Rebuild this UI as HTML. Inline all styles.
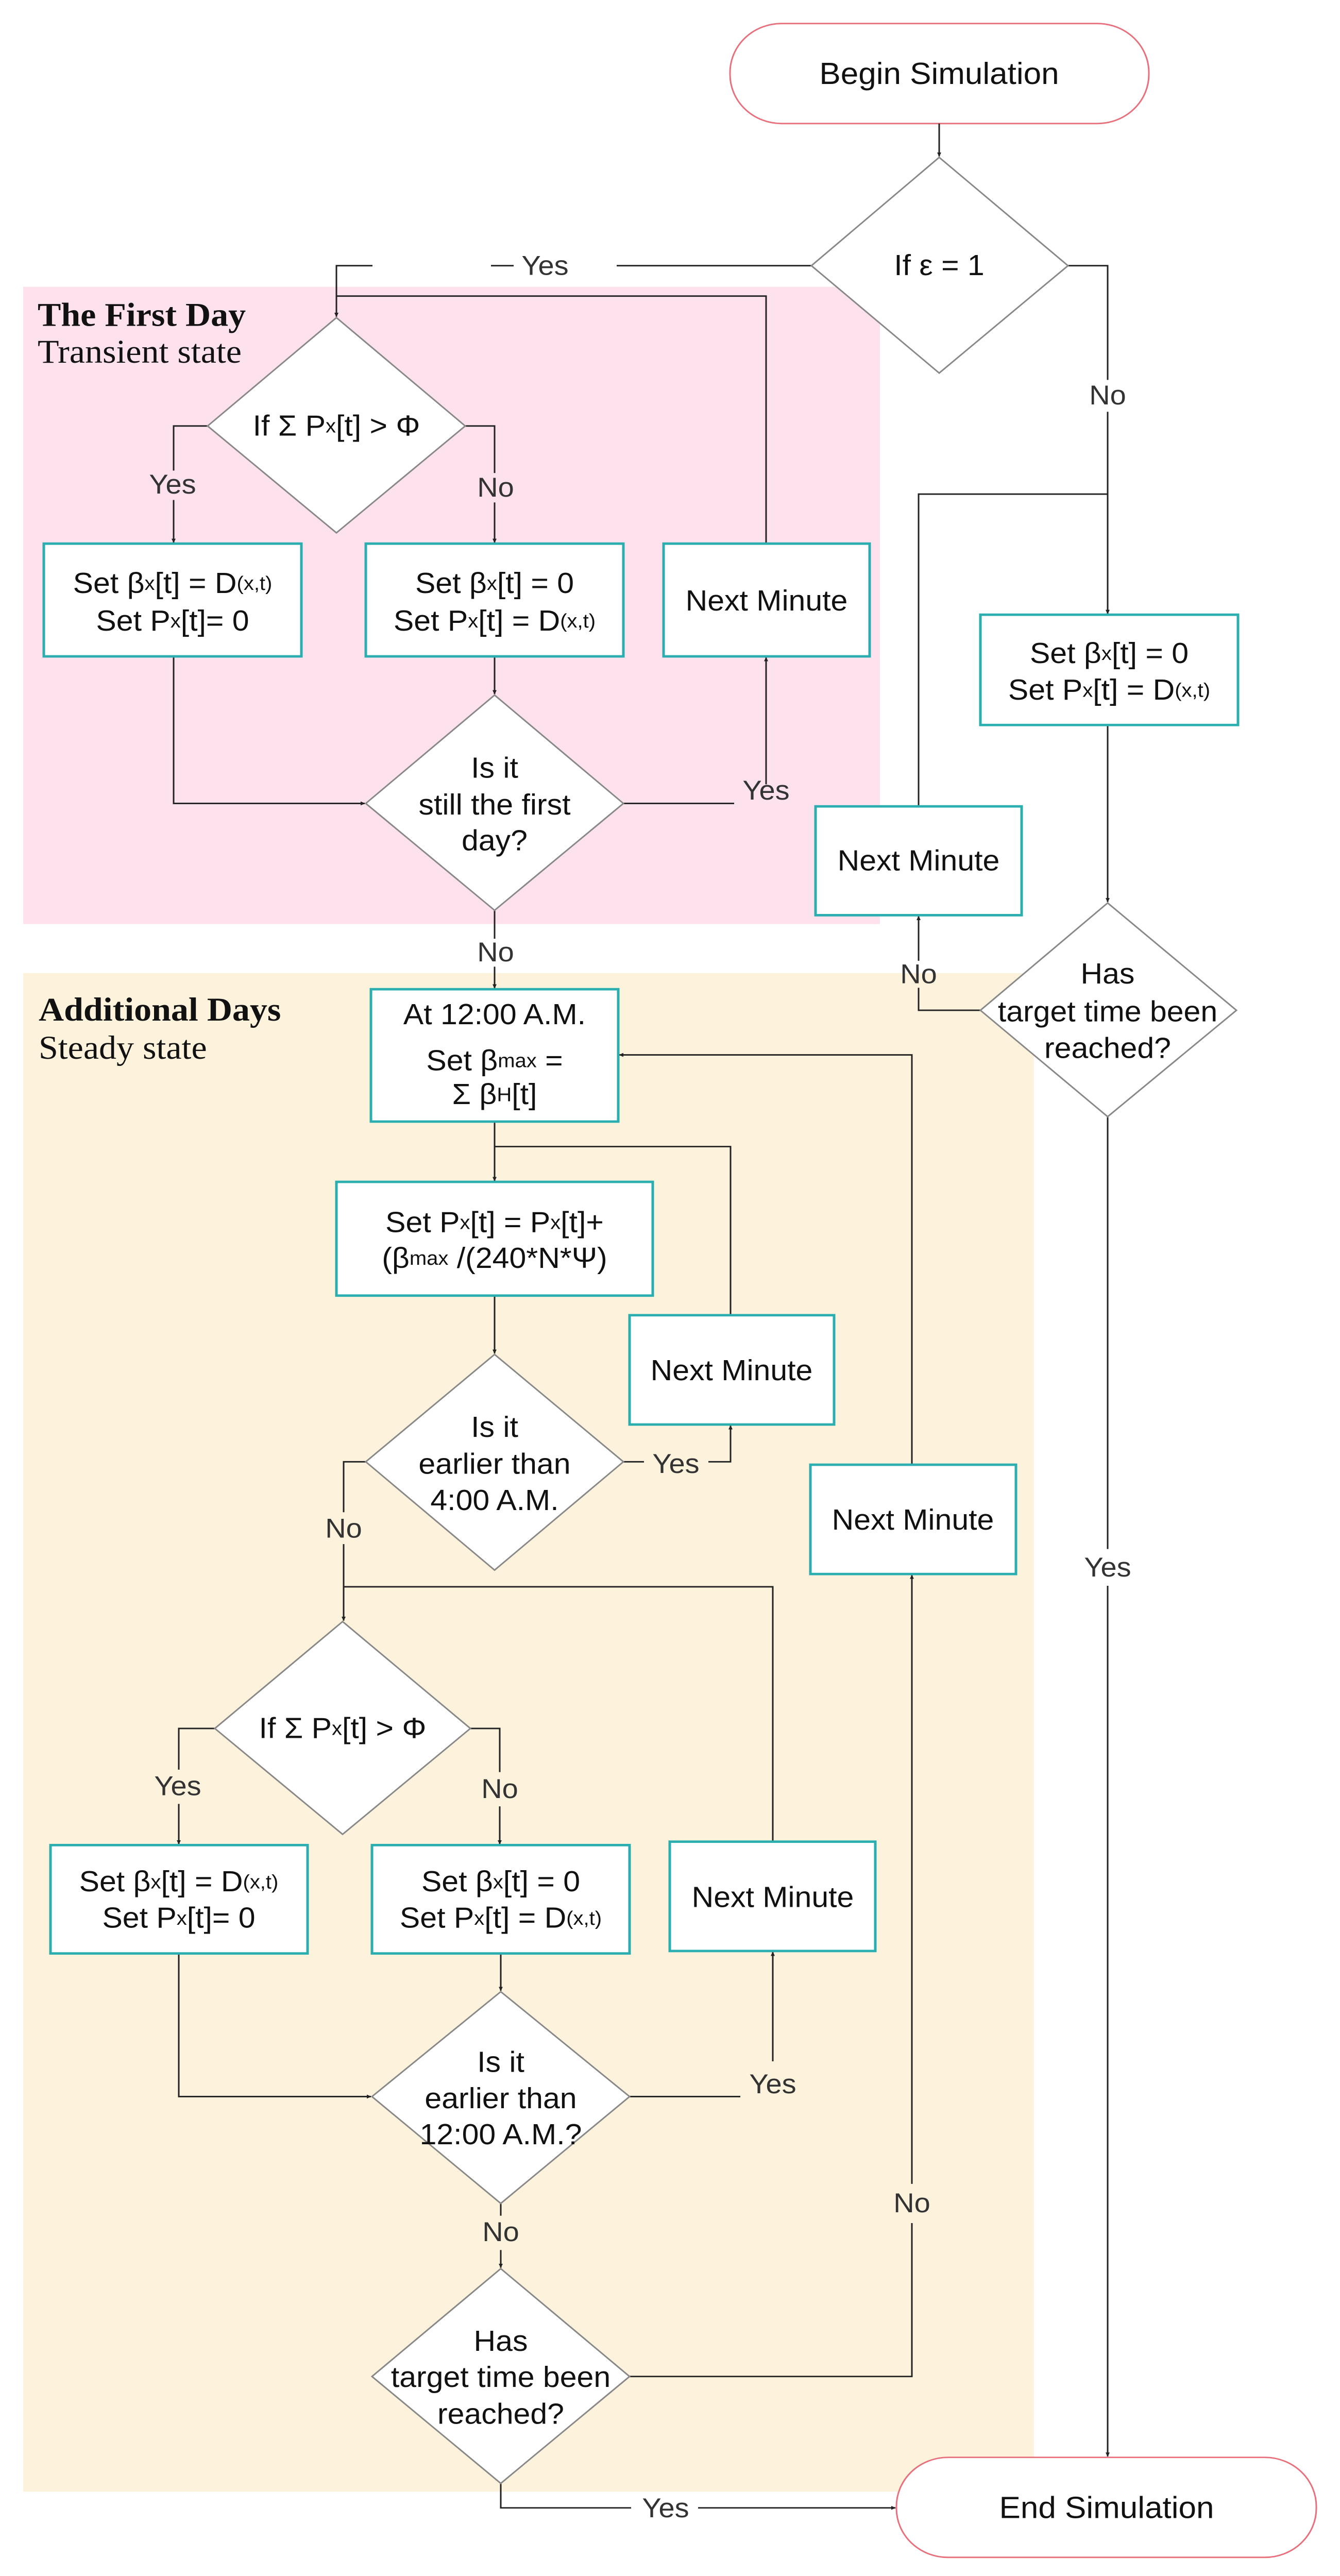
<!DOCTYPE html>
<html><head><meta charset="utf-8"><style>
html,body{margin:0;padding:0;background:#fff;width:100%;height:100%;overflow:hidden}
svg{display:block;position:absolute;left:0;top:0;width:100vw;height:100vh}
text{font-family:"Liberation Sans",sans-serif;fill:#111}
.t{font-size:59px;text-anchor:middle;dominant-baseline:central}
.l{font-size:56px;text-anchor:middle;dominant-baseline:central;fill:#333}
.s{font-size:40px}
.h{font-family:"Liberation Serif",serif;font-size:68px}
.c{stroke:#222;stroke-width:3;fill:none}
.d{stroke:#888;stroke-width:3;fill:#fff}
.b{stroke:#2aaeb0;stroke-width:5;fill:#fff}
.e{stroke:#e8707c;stroke-width:3;fill:#fff}
</style></head><body>
<svg viewBox="0 0 2601 5255" preserveAspectRatio="none" xmlns="http://www.w3.org/2000/svg">
<defs><marker id="a" markerWidth="10" markerHeight="10" refX="8" refY="5" orient="auto" markerUnits="userSpaceOnUse"><path d="M0,1 L9,5 L0,9 z" fill="#222"/></marker></defs>
<rect x="45" y="585" width="1663" height="1300" fill="#fde1ed"/>
<rect x="45" y="1985" width="1962" height="3098" fill="#fdf2dc"/>

<rect class="e" x="1417" y="48" width="813" height="204" rx="100"/>
<text class="t" x="1823" y="150" style="font-size:62px">Begin Simulation</text>
<rect class="e" x="1740" y="5013" width="815" height="204" rx="100"/>
<text class="t" x="2148" y="5115" style="font-size:62px">End Simulation</text>

<g class="c">
<line x1="1823" y1="252" x2="1823" y2="319" marker-end="url(#a)"/>
<polyline points="1575,542 1197,542"/><line x1="997" y1="542" x2="953" y2="542"/><polyline points="723,542 653,542 653,646" marker-end="url(#a)"/>
<polyline points="1487,1109 1487,604 653,604"/>
<polyline points="2073,542 2150,542 2150,775"/><line x1="2150" y1="840" x2="2150" y2="1252" marker-end="url(#a)"/>
<polyline points="2150,1008 1783,1008 1783,1645"/>
<line x1="2150" y1="1479" x2="2150" y2="1840" marker-end="url(#a)"/>
<polyline points="1903,2061 1783,2061 1783,2015"/><line x1="1783" y1="1960" x2="1783" y2="1869" marker-end="url(#a)"/>
<line x1="2150" y1="2278" x2="2150" y2="3160"/><line x1="2150" y1="3235" x2="2150" y2="5011" marker-end="url(#a)"/>

<polyline points="403,869 337,869 337,960"/><line x1="337" y1="1020" x2="337" y2="1107" marker-end="url(#a)"/>
<polyline points="903,869 960,869 960,965"/><line x1="960" y1="1025" x2="960" y2="1107" marker-end="url(#a)"/>
<polyline points="337,1339 337,1639 708,1639" marker-end="url(#a)"/>
<line x1="960" y1="1339" x2="960" y2="1416" marker-end="url(#a)"/>
<polyline points="1210,1639 1425,1639"/><line x1="1487" y1="1600" x2="1487" y2="1341" marker-end="url(#a)"/>
<line x1="960" y1="1857" x2="960" y2="1915"/><line x1="960" y1="1972" x2="960" y2="2016" marker-end="url(#a)"/>

<line x1="960" y1="2288" x2="960" y2="2409" marker-end="url(#a)"/>
<polyline points="960,2339 1418,2339 1418,2683"/>
<line x1="960" y1="2643" x2="960" y2="2761" marker-end="url(#a)"/>
<polyline points="1210,2982 1250,2982"/><polyline points="1375,2982 1418,2982 1418,2908" marker-end="url(#a)"/>
<polyline points="710,2982 667,2982 667,3085"/><line x1="667" y1="3150" x2="667" y2="3306" marker-end="url(#a)"/>
<polyline points="667,3237 1500,3237 1500,3757"/>
<polyline points="1770,2988 1770,2152 1202,2152" marker-end="url(#a)"/>

<polyline points="417,3526 347,3526 347,3610"/><line x1="347" y1="3680" x2="347" y2="3762" marker-end="url(#a)"/>
<polyline points="913,3526 970,3526 970,3615"/><line x1="970" y1="3685" x2="970" y2="3762" marker-end="url(#a)"/>
<polyline points="347,3985 347,4277 720,4277" marker-end="url(#a)"/>
<line x1="972" y1="3985" x2="972" y2="4061" marker-end="url(#a)"/>
<polyline points="1222,4277 1437,4277"/><line x1="1500" y1="4205" x2="1500" y2="3982" marker-end="url(#a)"/>
<line x1="972" y1="4495" x2="972" y2="4520"/><line x1="972" y1="4590" x2="972" y2="4626" marker-end="url(#a)"/>
<polyline points="1222,4848 1770,4848 1770,4535"/><line x1="1770" y1="4455" x2="1770" y2="3213" marker-end="url(#a)"/>
<polyline points="972,5066 972,5116 1225,5116"/><line x1="1355" y1="5116" x2="1738" y2="5116" marker-end="url(#a)"/>
</g>

<polygon class="d" points="1823,321 2073,542 1823,761 1575,542"/>
<text class="t" x="1823" y="542">If ε = 1</text>
<polygon class="d" points="653,648 903,869 653,1087 403,869"/>
<text class="t" x="653" y="869">If Σ P<tspan class="s">x</tspan>[t] &gt; Φ</text>
<polygon class="d" points="960,1418 1210,1639 960,1857 710,1639"/>
<text class="t" x="960" y="1567">Is it</text><text class="t" x="960" y="1642">still the first</text><text class="t" x="960" y="1715">day?</text>
<polygon class="d" points="2150,1842 2400,2061 2150,2278 1903,2061"/>
<text class="t" x="2150" y="1987">Has</text><text class="t" x="2150" y="2064">target time been</text><text class="t" x="2150" y="2139">reached?</text>
<polygon class="d" points="960,2763 1210,2982 960,3203 710,2982"/>
<text class="t" x="960" y="2912">Is it</text><text class="t" x="960" y="2987">earlier than</text><text class="t" x="960" y="3061">4:00 A.M.</text>
<polygon class="d" points="665,3308 913,3526 665,3742 417,3526"/>
<text class="t" x="665" y="3526">If Σ P<tspan class="s">x</tspan>[t] &gt; Φ</text>
<polygon class="d" points="972,4063 1222,4277 972,4495 722,4277"/>
<text class="t" x="972" y="4207">Is it</text><text class="t" x="972" y="4281">earlier than</text><text class="t" x="972" y="4355">12:00 A.M.?</text>
<polygon class="d" points="972,4628 1222,4848 972,5066 722,4848"/>
<text class="t" x="972" y="4776">Has</text><text class="t" x="972" y="4850">target time been</text><text class="t" x="972" y="4925">reached?</text>

<rect class="b" x="85" y="1109" width="500" height="230"/>
<text class="t" x="335" y="1190">Set β<tspan class="s">x</tspan>[t] = D<tspan class="s">(x,t)</tspan></text>
<text class="t" x="335" y="1267">Set P<tspan class="s">x</tspan>[t]= 0</text>
<rect class="b" x="710" y="1109" width="500" height="230"/>
<text class="t" x="960" y="1190">Set β<tspan class="s">x</tspan>[t] = 0</text>
<text class="t" x="960" y="1267">Set P<tspan class="s">x</tspan>[t] = D<tspan class="s">(x,t)</tspan></text>
<rect class="b" x="1288" y="1109" width="400" height="230"/>
<text class="t" x="1488" y="1226">Next Minute</text>
<rect class="b" x="1903" y="1254" width="500" height="225"/>
<text class="t" x="2153" y="1333">Set β<tspan class="s">x</tspan>[t] = 0</text>
<text class="t" x="2153" y="1408">Set P<tspan class="s">x</tspan>[t] = D<tspan class="s">(x,t)</tspan></text>
<rect class="b" x="1583" y="1645" width="400" height="222"/>
<text class="t" x="1783" y="1756">Next Minute</text>

<rect class="b" x="720" y="2018" width="480" height="270"/>
<text class="t" x="960" y="2070">At 12:00 A.M.</text>
<text class="t" x="960" y="2164">Set β<tspan class="s">max</tspan> =</text>
<text class="t" x="960" y="2233">Σ β<tspan class="s">H</tspan>[t]</text>
<rect class="b" x="653" y="2411" width="614" height="232"/>
<text class="t" x="960" y="2494">Set P<tspan class="s">x</tspan>[t] = P<tspan class="s">x</tspan>[t]+</text>
<text class="t" x="960" y="2567">(β<tspan class="s">max</tspan> /(240*N*Ψ)</text>
<rect class="b" x="1222" y="2683" width="397" height="223"/>
<text class="t" x="1420" y="2796">Next Minute</text>
<rect class="b" x="1573" y="2988" width="399" height="223"/>
<text class="t" x="1772" y="3101">Next Minute</text>
<rect class="b" x="98" y="3764" width="499" height="221"/>
<text class="t" x="347" y="3839">Set β<tspan class="s">x</tspan>[t] = D<tspan class="s">(x,t)</tspan></text>
<text class="t" x="347" y="3913">Set P<tspan class="s">x</tspan>[t]= 0</text>
<rect class="b" x="722" y="3764" width="500" height="221"/>
<text class="t" x="972" y="3839">Set β<tspan class="s">x</tspan>[t] = 0</text>
<text class="t" x="972" y="3913">Set P<tspan class="s">x</tspan>[t] = D<tspan class="s">(x,t)</tspan></text>
<rect class="b" x="1300" y="3757" width="399" height="223"/>
<text class="t" x="1500" y="3871">Next Minute</text>

<text class="l" x="1058" y="542">Yes</text>
<text class="l" x="2150" y="806">No</text>
<text class="l" x="335" y="988">Yes</text>
<text class="l" x="962" y="994">No</text>
<text class="l" x="1487" y="1612">Yes</text>
<text class="l" x="962" y="1942">No</text>
<text class="l" x="1783" y="1987">No</text>
<text class="l" x="1312" y="2986">Yes</text>
<text class="l" x="667" y="3118">No</text>
<text class="l" x="2150" y="3197">Yes</text>
<text class="l" x="345" y="3643">Yes</text>
<text class="l" x="970" y="3649">No</text>
<text class="l" x="1500" y="4251">Yes</text>
<text class="l" x="972" y="4553">No</text>
<text class="l" x="1770" y="4494">No</text>
<text class="l" x="1292" y="5116">Yes</text>

<text class="h" x="73" y="665" font-weight="bold">The First Day</text>
<text class="h" x="73" y="740">Transient state</text>
<text class="h" x="75" y="2082" font-weight="bold">Additional Days</text>
<text class="h" x="75" y="2160">Steady state</text>
</svg>
</body></html>
